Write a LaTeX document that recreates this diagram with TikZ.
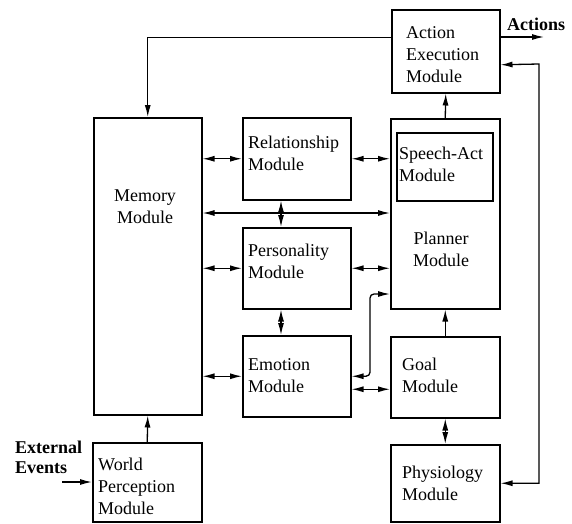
\documentclass[tikz,border=0pt]{standalone}
\usepackage{fontspec}
\setmainfont{Liberation Serif}
\usetikzlibrary{arrows.meta,calc}
\begin{document}
\begin{tikzpicture}[x=1pt,y=-1pt,
  box/.style={draw, line width=1.5pt, inner sep=0pt, anchor=north west},
  txt/.style={inner sep=0pt, anchor=base west, align=left, font=\fontsize{18}{22}\selectfont},
  ctxt/.style={inner sep=0pt, anchor=base, align=center, font=\fontsize{18}{22}\selectfont},
  btxt/.style={inner sep=0pt, anchor=base west, align=left, font=\fontsize{18}{20}\selectfont\bfseries},
  conn/.style={line width=1.3pt},
  arr/.style={conn, -{Latex[length=12pt,width=6pt]}},
  dbl/.style={conn, {Latex[length=12pt,width=6pt]}-{Latex[length=12pt,width=6pt]}}
]
\useasboundingbox (0,0) rectangle (572,523);
\fill[white] (0,0) rectangle (572,523);

% boxes
\node[box, minimum width=108pt, minimum height=83pt] (act) at (391,9) {};
\node[box, minimum width=108pt, minimum height=297pt] (mem) at (93,117) {};
\node[box, minimum width=108pt, minimum height=82pt] (rel) at (242,117) {};
\node[box, minimum width=108pt, minimum height=81pt] (per) at (242,227) {};
\node[box, minimum width=108pt, minimum height=81pt] (emo) at (242,335) {};
\node[box, minimum width=109pt, minimum height=190pt] (pla) at (390,118) {};
\node[box, minimum width=96pt, minimum height=68pt] (spa) at (396,132) {};
\node[box, minimum width=109pt, minimum height=81pt] (goa) at (390,336) {};
\node[box, minimum width=109pt, minimum height=77pt] (phy) at (390,444) {};
\node[box, minimum width=109pt, minimum height=79pt] (wp) at (92,442) {};

% texts (anchored at the baseline of the last line)
\node[txt] (actT) at (406,82) {Action\\Execution\\Module};
\node[btxt] (actsT) at (507,30) {Actions};
\node[ctxt] (memT) at (145,223) {Memory\\Module};
\node[txt] (relT) at (248,170) {Relationship\\Module};
\node[txt] (spaT) at (399,181) {Speech-Act\\Module};
\node[ctxt] (plaT) at (441,266) {Planner\\Module};
\node[txt] (perT) at (248,278) {Personality\\Module};
\node[txt] (emoT) at (248,392) {Emotion\\Module};
\node[txt] (goaT) at (402,392) {Goal\\Module};
\node[txt] (phyT) at (402,500) {Physiology\\Module};
\node[txt] (wpT) at (98,514) {World\\Perception\\Module};
\node[btxt] (extT) at (15,473) {External\\Events};

% helper coordinates
\coordinate (actout) at (544,37);
\coordinate (fbtop) at (539,64);
\coordinate (hl) at (281,213);
\coordinate (ep) at (370,294);
\coordinate (ext) at (62,482);

% connectors
\draw[arr] ([yshift=13.5pt]act.west) -| (mem.north);
\draw[arr] (act.east |- actout) -- (actout);
\draw[dbl] ([yshift=-13.5pt]act.east) -- (fbtop) -- (phy.east -| fbtop) -- (phy.east);
\draw[arr] (pla.north) -- (act.south);
\draw[dbl] (rel.west -| mem.east) -- (rel.west);
\draw[dbl] (rel.east) -- (rel.east -| pla.west);
\draw[dbl] (mem.east |- hl) -- (pla.west |- hl);
\draw[dbl] (rel.south -| hl) -- (per.north -| hl);
\draw[dbl] (per.west -| mem.east) -- (per.west);
\draw[dbl] (per.east) -- (per.east -| pla.west);
\draw[dbl] (per.south -| hl) -- (emo.north -| hl);
\draw[dbl] (emo.west -| mem.east) -- (emo.west);
\draw[dbl, rounded corners=4pt] (emo.east) -| (ep) -- (ep -| pla.west);
\draw[dbl] ([yshift=-13pt]emo.east) -- ([yshift=-13pt]emo.east -| goa.west);
\draw[arr] (goa.north) -- (pla.south);
\draw[dbl] (goa.south) -- (phy.north);
\draw[arr] (wp.north) -- (mem.south);
\draw[arr] (ext) -- (ext -| wp.west);
\end{tikzpicture}
\end{document}
